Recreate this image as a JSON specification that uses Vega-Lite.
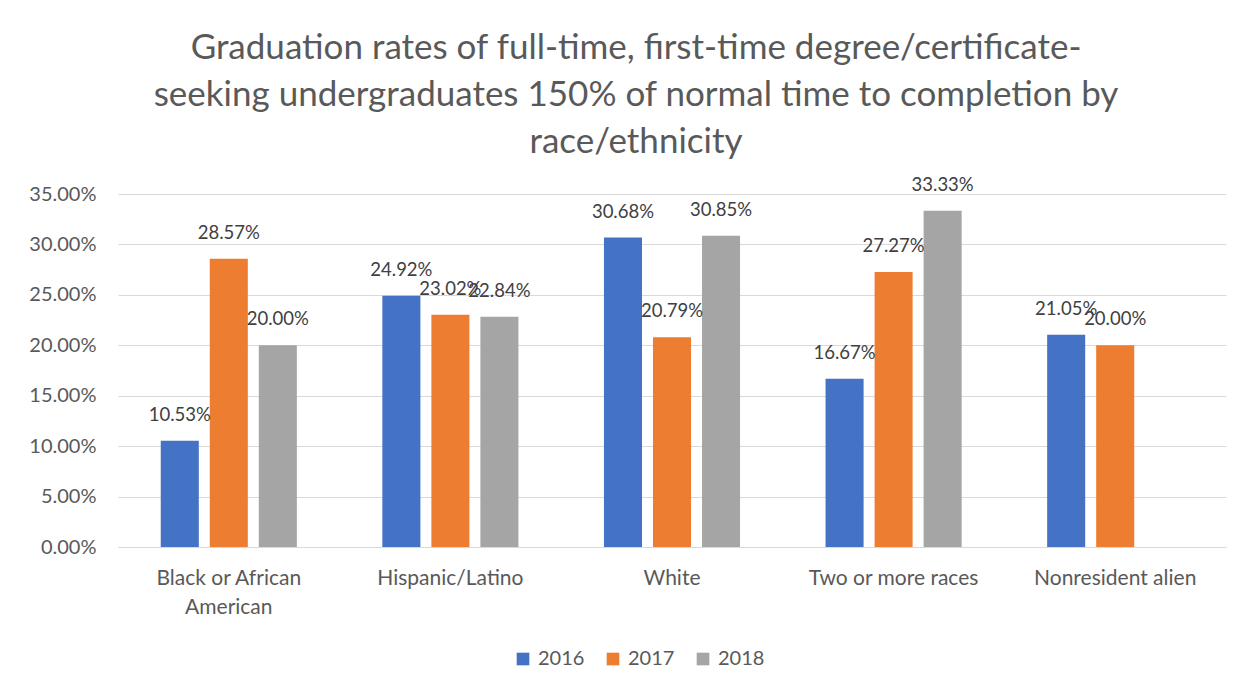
{
  "$schema": "https://vega.github.io/schema/vega-lite/v6.json",
  "width": 1108,
  "height": 353,
  "autosize": {"type": "none"},
  "padding": {"left": 118, "top": 194, "right": 27, "bottom": 151},
  "background": "white",
  "title": {
    "text": ["Graduation rates of full-time, first-time degree/certificate-", "seeking undergraduates 150% of normal time to completion by", "race/ethnicity"],
    "anchor": "middle",
    "dx": -36,
    "offset": 16,
    "font": "Lato",
    "fontSize": 35,
    "fontWeight": "normal",
    "color": "#595959",
    "lineHeight": 47
  },
  "data": {
    "values": [
      {"race": "Black or African American", "year": "2016", "rate": 0.1053},
      {"race": "Black or African American", "year": "2017", "rate": 0.2857},
      {"race": "Black or African American", "year": "2018", "rate": 0.2000},
      {"race": "Hispanic/Latino", "year": "2016", "rate": 0.2492},
      {"race": "Hispanic/Latino", "year": "2017", "rate": 0.2302},
      {"race": "Hispanic/Latino", "year": "2018", "rate": 0.2284},
      {"race": "White", "year": "2016", "rate": 0.3068},
      {"race": "White", "year": "2017", "rate": 0.2079},
      {"race": "White", "year": "2018", "rate": 0.3085},
      {"race": "Two or more races", "year": "2016", "rate": 0.1667},
      {"race": "Two or more races", "year": "2017", "rate": 0.2727},
      {"race": "Two or more races", "year": "2018", "rate": 0.3333},
      {"race": "Nonresident alien", "year": "2016", "rate": 0.2105},
      {"race": "Nonresident alien", "year": "2017", "rate": 0.2000}
    ]
  },
  "encoding": {
    "x": {
      "field": "race",
      "type": "nominal",
      "sort": ["Black or African American", "Hispanic/Latino", "White", "Two or more races", "Nonresident alien"],
      "scale": {"paddingInner": 0, "paddingOuter": 0},
      "axis": {
        "title": null,
        "labelAngle": 0,
        "ticks": false,
        "domainColor": "#d9d9d9",
        "domainWidth": 1,
        "labelFont": "Lato",
        "labelFontSize": 21,
        "labelColor": "#595959",
        "labelPadding": 31,
        "labelLineHeight": 29,
        "labelBaseline": "middle",
        "labelExpr": "datum.label == 'Black or African American' ? ['Black or African', 'American'] : datum.label"
      }
    },
    "xOffset": {
      "field": "year",
      "type": "nominal",
      "scale": {"paddingInner": 0.224, "paddingOuter": 0.872}
    },
    "y": {
      "field": "rate",
      "type": "quantitative",
      "scale": {"domain": [0, 0.35]},
      "axis": {
        "title": null,
        "values": [0, 0.05, 0.1, 0.15, 0.2, 0.25, 0.3, 0.35],
        "format": ".2%",
        "domain": false,
        "ticks": false,
        "gridColor": "#d9d9d9",
        "gridWidth": 1,
        "labelFont": "Lato",
        "labelFontSize": 20,
        "labelColor": "#595959",
        "labelPadding": 22
      }
    }
  },
  "layer": [
    {
      "mark": {"type": "bar"},
      "encoding": {
        "color": {
          "field": "year",
          "type": "nominal",
          "scale": {"domain": ["2016", "2017", "2018"], "range": ["#4472C4", "#ED7D31", "#A5A5A5"]},
          "legend": {
            "title": null,
            "orient": "none",
            "direction": "horizontal",
            "legendX": 395,
            "legendY": 455,
            "symbolType": "square",
            "symbolSize": 160,
            "symbolStrokeWidth": 0,
            "labelFont": "Lato",
            "labelFontSize": 20,
            "labelColor": "#595959",
            "labelOffset": 5,
            "columnPadding": 18
          }
        }
      }
    },
    {
      "mark": {"type": "text", "baseline": "middle", "dy": -26, "font": "Lato", "fontSize": 18.5, "color": "#404040"},
      "encoding": {
        "text": {"field": "rate", "type": "quantitative", "format": ".2%"}
      }
    }
  ],
  "config": {
    "view": {"stroke": null}
  }
}
